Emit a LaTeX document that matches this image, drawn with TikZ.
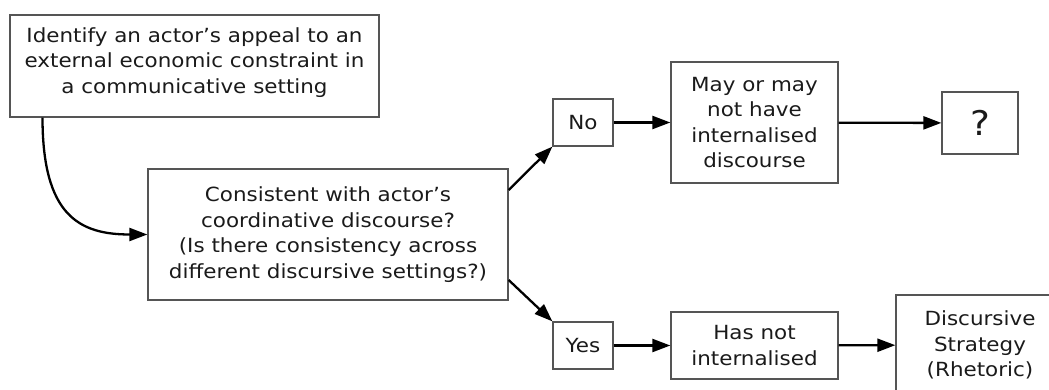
\documentclass[tikz,border=0pt]{standalone}
\usepackage{fontspec}
\setmainfont[FakeStretch=1.1]{DejaVu Sans}
\usetikzlibrary{arrows.meta}
\definecolor{boxline}{HTML}{555555}
\definecolor{ink}{HTML}{1A1A1A}
\tikzset{
  box/.style={draw=boxline, line width=1.3pt, rectangle, inner sep=0pt, align=center,
    text=ink, font=\fontsize{19.5}{25.5}\selectfont},
  txt/.style={inner sep=0pt, align=center, text=ink, font=\fontsize{19.5}{25.5}\selectfont},
  arr/.style={draw=black, line width=2.3pt, -{Triangle[length=18pt,width=13pt]}}
}
\begin{document}
\begin{tikzpicture}[x=1pt,y=-1pt]
\useasboundingbox (0,0) rectangle (1049,390);
\clip (0,0) rectangle (1049,390);
\node[box, minimum width=369pt, minimum height=102pt,
  label={[txt, yshift=3.5pt]center:Identify an actor’s appeal to an\\external economic constraint in\\a communicative setting}] (b1) at (194.5,66) {};
\node[box, minimum width=360pt, minimum height=131pt] (b2) at (328,234.5)
  {Consistent with actor’s\\coordinative discourse?\\(Is there consistency across\\different discursive settings?)};
\node[box, minimum width=60pt, minimum height=47pt] (no) at (583,122.5) {No};
\node[box, minimum width=167pt, minimum height=121pt] (may) at (754.5,122.5)
  {May or may\\not have\\internalised\\discourse};
\node[box, minimum width=76pt, minimum height=62pt, font=\fontsize{34}{38}\selectfont] (q) at (980,123) {?};
\node[box, minimum width=60pt, minimum height=47pt] (yes) at (583,345.5) {Yes};
\node[box, minimum width=167pt, minimum height=67pt] (has) at (754.5,345.5)
  {Has not\\internalised};
\node[box, minimum width=168pt, minimum height=100pt] (disc) at (980,345)
  {Discursive\\Strategy\\(Rhetoric)};
\draw[arr] ([xshift=-152pt]b1.south) .. controls ([xshift=-152pt,yshift=-98pt]b1.south) and ([xshift=-68pt]b2.west) .. (b2.west);
\draw[arr] ([yshift=44.5pt]b2.east) -- (no.south west);
\draw[arr] ([yshift=-45.5pt]b2.east) -- (yes.north west);
\draw[arr] (no) -- (may);
\draw[arr] (may) -- (q);
\draw[arr] (yes) -- (has);
\draw[arr] (has) -- (disc);
\end{tikzpicture}
\end{document}
